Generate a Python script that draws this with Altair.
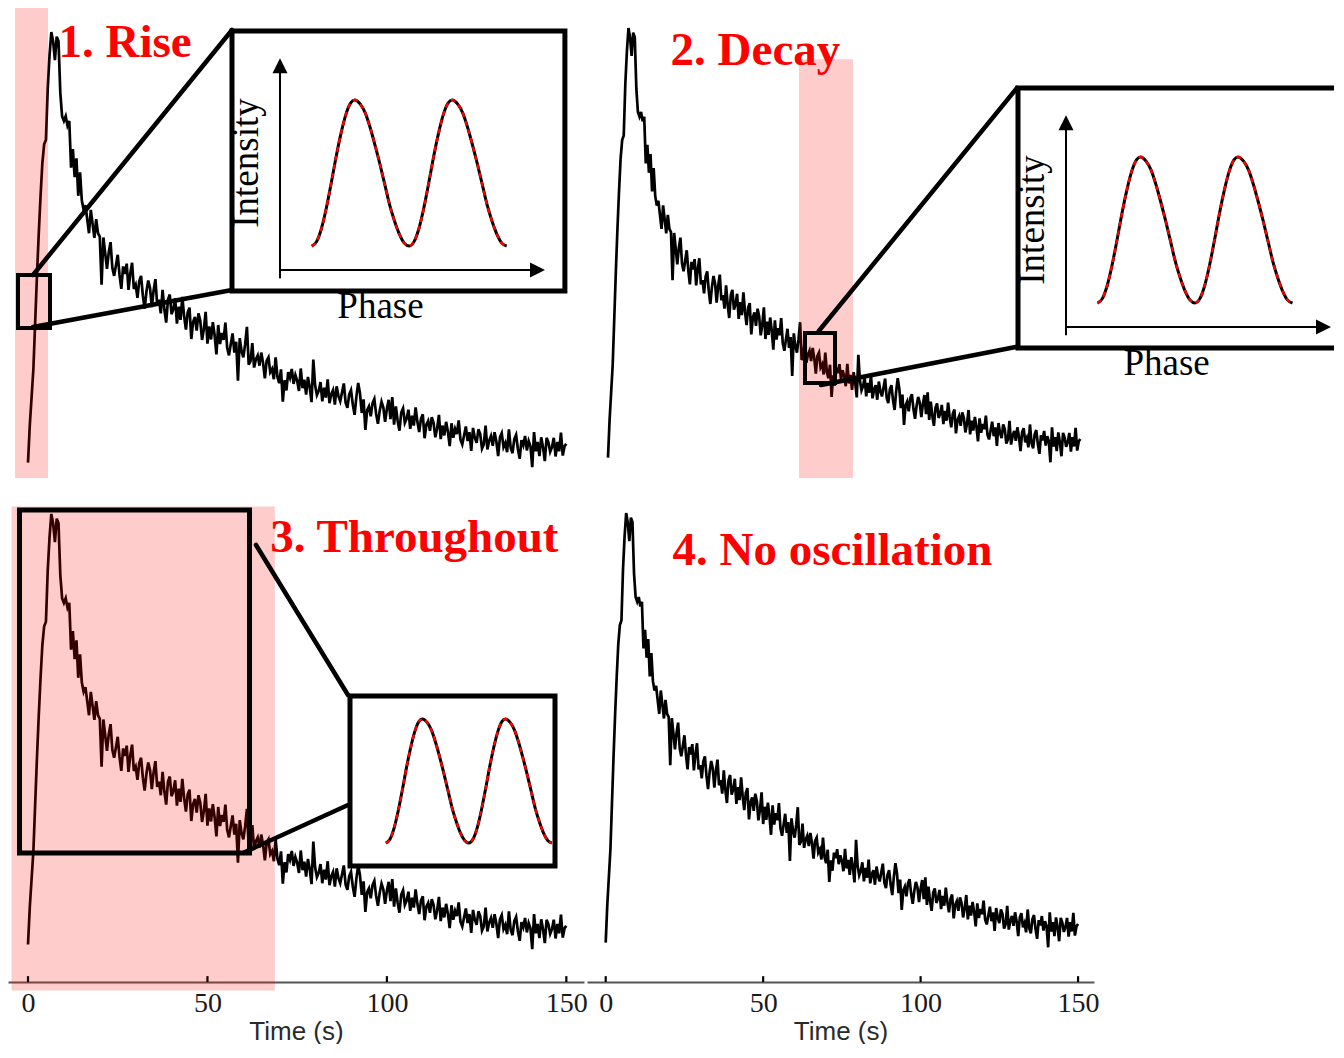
import altair as alt
import pandas as pd

# ---------------- data ----------------
TIME_STEP = 0.5  # seconds between samples of the light curve
intensity = [
    8, 16, 22, 28, 38, 48, 57, 65, 72, 76,
    77, 88, 95, 100, 98, 94, 99, 98, 87, 82,
    81, 82, 80, 81, 71, 75, 69, 73, 65, 70,
    64, 62, 63, 60, 57, 62, 59, 56, 60, 57,
    56.3, 46.0, 56.1, 52.8, 49.4, 52.9, 55.1, 49.6, 47.9, 50.1,
    52.4, 48.1, 45.1, 49.9, 48.3, 50.5, 44.9, 48.4, 50.7, 45.1,
    46.0, 43.2, 46.8, 47.9, 43.7, 40.9, 44.5, 46.9, 45.3, 41.2,
    44.8, 47.2, 41.7, 42.8, 39.9, 44.9, 40.7, 37.9, 42.8, 43.9,
    39.7, 40.8, 43.1, 37.7, 41.3, 38.5, 43.4, 39.3, 36.4, 40.1,
    41.1, 34.4, 38.0, 39.1, 36.2, 39.9, 38.3, 34.2, 36.5, 40.2,
    33.4, 37.1, 34.3, 38.0, 35.2, 31.1, 37.4, 33.3, 35.7, 34.2,
    37.9, 32.5, 30.9, 33.3, 35.6, 31.5, 33.8, 25.5, 34.6, 31.8,
    30.5, 33.3, 37.0, 28.9, 29.7, 33.5, 28.3, 30.1, 30.9, 28.7,
    31.5, 29.3, 26.0, 29.8, 30.5, 27.3, 28.0, 25.8, 30.5, 26.3,
    25.0, 27.9, 21.0, 25.6, 23.4, 27.3, 26.1, 28.0, 24.8, 26.7,
    25.5, 23.3, 28.1, 23.9, 25.7, 22.5, 26.3, 24.1, 20.9, 30.0,
    24.5, 22.4, 23.3, 25.2, 21.1, 24.0, 21.9, 25.8, 20.7, 22.6,
    23.5, 20.4, 24.3, 22.2, 21.1, 23.0, 24.9, 20.8, 19.7, 22.6,
    23.5, 20.4, 18.2, 22.1, 25.0, 22.8, 18.6, 21.5, 15.0, 19.2,
    20.0, 17.9, 20.7, 21.6, 18.4, 16.3, 19.1, 21.0, 19.8, 16.7,
    19.5, 21.4, 17.3, 22.0, 16.1, 20.0, 16.9, 14.8, 18.7, 19.6,
    16.5, 17.4, 19.3, 15.2, 18.0, 15.9, 19.8, 16.7, 14.5, 17.4,
    18.3, 13.2, 16.1, 16.9, 14.8, 17.7, 16.5, 13.4, 15.3, 18.2,
    13.0, 15.9, 13.8, 16.7, 14.6, 11.5, 16.4, 13.3, 15.2, 14.1,
    17.0, 12.9, 11.9, 13.8, 15.7, 12.6, 14.5, 10.5, 15.4, 13.3,
    12.2, 15.1, 14.1, 11.0, 11.9, 15.9, 10.8, 12.7, 13.7, 11.6,
    14.5, 12.5, 9.4, 13.4, 14.3, 11.3, 12.2, 10.2, 15.1, 11.1,
    10.0, 13.0, 13.9, 10.9, 8.8, 12.8, 11.7, 13.7, 10.6, 12.6,
    11.5, 7.0, 14.5, 10.4, 12.4, 9.4, 13.4, 11.3, 8.3, 13.3,
    12.3, 10.3, 11.3, 13.3, 9.3, 12.4, 10.4, 14.4, 9.5, 11.5,
    12.0,
]
time_s = [round(i * TIME_STEP, 2) for i in range(len(intensity))]

# one cycle of the folded (phase) profile shown in the insets
inset_phase = [0.00, 0.05, 0.10, 0.15, 0.20, 0.25, 0.30, 0.35, 0.40, 0.44,
               0.50, 0.55, 0.60, 0.65, 0.70, 0.75, 0.80, 0.85, 0.90, 0.95]
inset_level = [0.00, 0.03, 0.12, 0.26, 0.43, 0.61, 0.77, 0.90, 0.98, 1.00,
               0.97, 0.91, 0.81, 0.69, 0.56, 0.42, 0.28, 0.17, 0.08, 0.02]

tick_values = [0, 50, 100, 150]
panel_labels = ["1. Rise", "2. Decay", "3. Throughout", "4. No oscillation"]
axis_label_y = "Intensity"
axis_label_x = "Phase"
time_title = "Time (s)"

# ---------------- layout / annotation geometry (in data units) ----------------
CFG = [
    dict(w=576, h=472, xdom=[-5.573, 154.92], ydom=[4.274, 105.13], axis=False,
         shade=(-3.62, 5.57, 4.7, 105.13),
         box=(-2.79, 6.13, 36.75, 48.08, 4),
         links=[(1.39, 48.08, 56.84, 100.43), (1.39, 36.97, 56.84, 44.87)],
         frame=(56.84, 149.6, 44.66, 100.21), frame_clip=False,
         wave=(79.05, 27.165, 54.27, 31.2),
         arrows=dict(x=70.21, ybot=47.37, yline=92.74, ytip=94.38,
                     yax=49.15, xline=141.8, xtip=144.05),
         label=(8.5, 94.72), ilabel=(64.17, 72.0), plabel=(98.22, 38.82)),
    dict(w=747, h=472, xdom=[-6.669, 230.55], ydom=[3.212, 104.28], axis=False,
         shade=(60.65, 77.8, 3.64, 93.3),
         box=(62.56, 72.09, 23.98, 34.69, 4),
         links=[(66.94, 35.12, 129.88, 87.15), (67.64, 23.55, 129.88, 31.76)],
         frame=(130.2, 251.5, 31.48, 87.15), frame_clip=True,
         wave=(155.44, 30.965, 41.11, 31.27),
         arrows=dict(x=145.44, ybot=34.20, yline=79.66, ytip=81.31,
                     yax=35.97, xline=227.06, xtip=229.6),
         label=(19.88, 92.08), ilabel=(138.55, 58.89), plabel=(177.37, 25.63)),
    dict(w=576, h=502, xdom=[-5.573, 154.92], ydom=[0.0, 107.26], axis=True,
         shade=(-4.60, 68.77, -1.82, 101.6),
         box=(-2.37, 61.72, 27.56, 100.85, 5),
         links=[(63.53, 93.38, 89.16, 61.32), (60.46, 27.78, 89.16, 37.82)],
         frame=(89.72, 146.84, 24.79, 61.11), frame_clip=False,
         wave=(99.69, 23.14, 29.70, 26.5),
         arrows=None,
         label=(67.51, 91.77), ilabel=None, plabel=None),
    dict(w=507, h=502, xdom=[-5.938, 155.06], ydom=[-0.428, 107.07], axis=True,
         shade=None, box=None, links=None, frame=None, wave=None, arrows=None,
         label=(21.21, 88.87), ilabel=None, plabel=None),
]

UP_HEAD = "M0,0L0.5,1L-0.5,1Z"
RIGHT_HEAD = "M0,0L-1,-0.5L-1,0.5Z"


def time_axis():
    return alt.Axis(values=tick_values, title=time_title, grid=False, ticks=False, tickSize=0,
                    domainColor="#555555", domainWidth=1.8, labelFont="Liberation Serif",
                    labelFontSize=28, labelColor="#1a1a1a", labelPadding=7, labelFlush=False,
                    labelOverlap=False, format="d", titleFont="Liberation Sans",
                    titleFontSize=26, titleFontWeight="normal", titleColor="#2a2a2a",
                    titleBaseline="alphabetic", titleY=57)


def build_panel(idx):
    c = CFG[idx]
    ax = time_axis() if c["axis"] else None
    xs = alt.Scale(domain=c["xdom"], nice=False, zero=False)
    ys = alt.Scale(domain=c["ydom"], nice=False, zero=False)

    def X(f):
        return alt.X(f, type="quantitative", scale=xs, axis=ax)

    def Y(f):
        return alt.Y(f, type="quantitative", scale=ys, axis=None)

    layers = []
    curve_df = pd.DataFrame({"t": time_s, "I": intensity})
    layers.append(alt.Chart(curve_df).mark_line(color="black", strokeWidth=2.7, strokeJoin="miter")
                  .encode(x=X("t"), y=Y("I")))

    if c["shade"]:
        t1, t2, i1, i2 = c["shade"]
        d = pd.DataFrame({"t1": [t1], "t2": [t2], "i1": [i1], "i2": [i2]})
        layers.append(alt.Chart(d).mark_rect(color="#ff0000", opacity=0.2)
                      .encode(x=X("t1"), x2="t2", y=Y("i1"), y2="i2"))

    if c["axis"]:
        lo = c["ydom"][0]
        d = pd.DataFrame({"t": tick_values, "a": [lo] * 4, "b": [lo + 1.25] * 4})
        layers.append(alt.Chart(d).mark_rule(color="black", strokeWidth=2.2)
                      .encode(x=X("t"), y=Y("a"), y2="b"))

    if c["box"]:
        t1, t2, i1, i2, sw = c["box"]
        d = pd.DataFrame({"t1": [t1], "t2": [t2], "i1": [i1], "i2": [i2]})
        layers.append(alt.Chart(d).mark_rect(fillOpacity=0, stroke="black", strokeWidth=sw)
                      .encode(x=X("t1"), x2="t2", y=Y("i1"), y2="i2"))

    if c["links"]:
        d = pd.DataFrame(c["links"], columns=["xa", "ya", "xb", "yb"])
        layers.append(alt.Chart(d).mark_rule(color="black", strokeWidth=4.5, strokeCap="round")
                      .encode(x=X("xa"), y=Y("ya"), x2="xb", y2="yb"))

    if c["frame"]:
        t1, t2, i1, i2 = c["frame"]
        d = pd.DataFrame({"t1": [t1], "t2": [t2], "i1": [i1], "i2": [i2]})
        layers.append(alt.Chart(d).mark_rect(fill="white", stroke="black", strokeWidth=5,
                                             clip=c["frame_clip"])
                      .encode(x=X("t1"), x2="t2", y=Y("i1"), y2="i2"))

    if c["arrows"]:
        a = c["arrows"]
        d = pd.DataFrame({"xa": [a["x"], a["x"]], "ya": [a["ybot"], a["yax"]],
                          "xb": [a["x"], a["xline"]], "yb": [a["yline"], a["yax"]]})
        layers.append(alt.Chart(d).mark_rule(color="black", strokeWidth=2)
                      .encode(x=X("xa"), y=Y("ya"), x2="xb", y2="yb"))
        layers.append(alt.Chart(pd.DataFrame({"t": [a["x"]], "I": [a["ytip"]]}))
                      .mark_point(shape=UP_HEAD, size=900, filled=True, color="black", opacity=1)
                      .encode(x=X("t"), y=Y("I")))
        layers.append(alt.Chart(pd.DataFrame({"t": [a["xtip"]], "I": [a["yax"]]}))
                      .mark_point(shape=RIGHT_HEAD, size=900, filled=True, color="black", opacity=1)
                      .encode(x=X("t"), y=Y("I")))

    if c["wave"]:
        t0, cyc, i0, amp = c["wave"]
        ph = inset_phase + [p + 1 for p in inset_phase] + [2.0]
        lv = inset_level + inset_level + [0.0]
        d = pd.DataFrame({"t": [t0 + p * cyc for p in ph], "I": [i0 + v * amp for v in lv]})
        layers.append(alt.Chart(d).mark_line(color="black", strokeWidth=3, interpolate="monotone")
                      .encode(x=X("t"), y=Y("I")))
        layers.append(alt.Chart(d).mark_line(color="#ff0000", strokeWidth=2.4,
                                             strokeDash=[5, 4], interpolate="monotone")
                      .encode(x=X("t"), y=Y("I")))

    if c["ilabel"]:
        d = pd.DataFrame({"t": [c["ilabel"][0]], "I": [c["ilabel"][1]], "s": [axis_label_y]})
        layers.append(alt.Chart(d).mark_text(font="Liberation Serif", fontSize=37, angle=270,
                                             align="center", baseline="alphabetic", color="black")
                      .encode(x=X("t"), y=Y("I"), text="s:N"))
    if c["plabel"]:
        d = pd.DataFrame({"t": [c["plabel"][0]], "I": [c["plabel"][1]], "s": [axis_label_x]})
        layers.append(alt.Chart(d).mark_text(font="Liberation Serif", fontSize=37,
                                             align="center", baseline="alphabetic", color="black")
                      .encode(x=X("t"), y=Y("I"), text="s:N"))

    d = pd.DataFrame({"t": [c["label"][0]], "I": [c["label"][1]], "s": [panel_labels[idx]]})
    layers.append(alt.Chart(d).mark_text(font="Liberation Serif", fontSize=47, fontWeight="bold",
                                         align="left", baseline="alphabetic", color="#ff0000")
                  .encode(x=X("t"), y=Y("I"), text="s:N"))

    return alt.layer(*layers).properties(width=c["w"], height=c["h"])


row1 = alt.hconcat(build_panel(0), build_panel(1), spacing=3, bounds="flush")
row2 = alt.hconcat(build_panel(2), build_panel(3), spacing=3, bounds="flush")
chart = (alt.vconcat(row1, row2, spacing=0)
         .properties(padding={"left": 0, "right": 0, "top": 0, "bottom": 0}, background="white")
         .configure_view(strokeWidth=0))

chart.save("out.html", embed_options={"renderer": "svg", "actions": False})
